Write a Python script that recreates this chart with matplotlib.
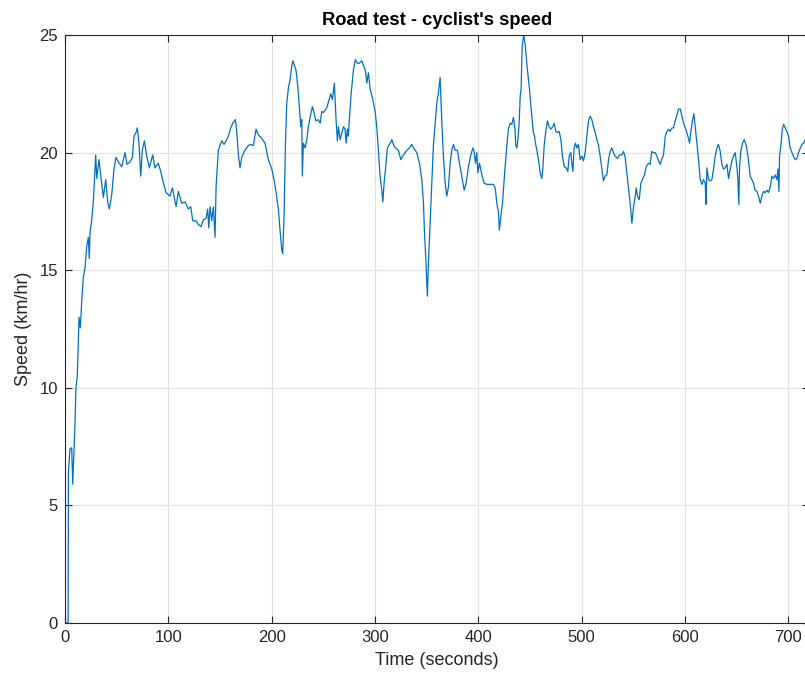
import matplotlib
matplotlib.use("Agg")
import matplotlib.pyplot as plt

# Road test: cyclist's speed over time
time_s = [
    0.0, 3.0, 3.3, 4.8, 6.5, 7.5, 9.7, 10.6, 11.9, 13.6, 14.8, 16.2, 17.7, 19.4,
    21.0, 22.6, 23.5, 24.2, 25.8, 27.4, 29.7, 30.7, 32.9, 34.9, 37.1, 39.4, 41.3,
    42.9, 45.2, 47.4, 49.4, 51.6, 54.9, 58.1, 60.0, 62.9, 65.2, 66.8, 68.7, 70.0,
    71.6, 73.3, 74.8, 76.8, 79.1, 81.6, 84.9, 87.1, 90.3, 92.6, 94.5, 97.8, 101.6,
    103.9, 107.5, 109.7, 112.9, 116.2, 119.4, 121.7, 123.6, 126.8, 129.0, 131.7,
    133.9, 136.5, 138.1, 139.1, 140.4, 142.0, 143.6, 145.2, 146.2, 148.4, 150.0,
    151.7, 153.9, 155.9, 158.1, 160.4, 162.3, 164.9, 166.2, 167.8, 169.4, 171.0,
    174.2, 177.4, 179.8, 182.3, 184.9, 187.1, 190.4, 193.6, 196.8, 200.1, 202.3,
    204.3, 206.5, 208.1, 209.8, 210.7, 212.0, 213.3, 214.6, 216.2, 217.8, 219.5,
    220.7, 222.0, 223.6, 225.3, 226.8, 228.2, 229.1, 229.7, 230.7, 232.3, 234.0,
    235.5, 237.2, 239.4, 241.0, 242.7, 245.2, 246.9, 248.5, 250.0, 253.3, 255.9,
    257.2, 258.8, 260.7, 262.3, 263.6, 264.6, 266.2, 267.9, 269.4, 271.1, 272.0,
    273.3, 274.2, 275.2, 276.9, 279.1, 281.0, 283.0, 284.9, 287.2, 288.8, 290.7,
    292.1, 293.6, 295.3, 297.9, 300.1, 301.7, 303.3, 304.9, 306.6, 307.6, 308.8,
    310.5, 312.0, 314.6, 316.3, 317.8, 319.5, 322.7, 325.0, 327.5, 330.8, 333.3,
    335.6, 337.2, 340.5, 343.0, 345.3, 346.9, 347.8, 349.2, 350.7, 351.7, 353.3,
    355.0, 356.5, 358.2, 359.8, 361.4, 363.0, 364.7, 366.2, 367.9, 369.5, 371.1,
    372.7, 374.3, 375.9, 377.5, 379.8, 381.7, 384.0, 386.3, 388.2, 390.4, 392.7,
    394.7, 395.9, 397.2, 398.5, 399.5, 401.1, 403.4, 405.6, 408.2, 411.4, 414.6,
    416.3, 417.9, 419.5, 420.4, 421.8, 423.3, 425.9, 427.6, 429.1, 430.8, 432.4,
    434.0, 435.4, 436.3, 437.3, 438.3, 439.5, 440.5, 441.4, 442.4, 443.9, 445.3,
    447.3, 449.5, 450.9, 452.4, 453.3, 454.3, 455.3, 456.6, 458.2, 459.8, 461.5,
    462.4, 463.7, 465.3, 466.9, 468.5, 470.2, 472.1, 473.4, 475.0, 476.6, 478.2,
    479.9, 481.4, 483.1, 485.0, 486.6, 487.9, 489.5, 490.5, 491.5, 492.7, 494.0,
    495.4, 496.9, 498.5, 500.2, 501.7, 503.4, 505.0, 506.6, 508.2, 509.9, 511.4,
    513.1, 514.7, 516.3, 517.9, 519.6, 521.1, 522.7, 524.4, 526.0, 527.6, 529.2,
    530.8, 532.4, 534.7, 536.6, 538.9, 540.5, 542.1, 543.7, 545.3, 547.0, 548.6,
    550.2, 551.8, 552.8, 554.0, 555.7, 557.3, 559.2, 560.8, 562.4, 564.6, 566.3,
    567.9, 569.5, 571.2, 572.8, 574.4, 576.0, 577.7, 579.2, 580.9, 582.5, 584.2,
    585.7, 587.4, 588.9, 590.5, 592.2, 593.7, 595.4, 597.0, 598.6, 600.2, 601.8,
    603.4, 604.4, 605.7, 607.3, 608.6, 609.9, 611.5, 613.1, 614.7, 616.4, 617.9,
    619.6, 620.2, 621.2, 622.8, 624.4, 626.0, 627.6, 629.2, 630.9, 632.4, 634.1,
    635.7, 637.3, 638.9, 640.6, 642.1, 643.8, 645.4, 647.0, 648.6, 650.2, 651.2,
    652.1, 652.8, 654.1, 655.7, 657.3, 659.3, 660.9, 663.1, 664.7, 666.3, 667.9,
    669.6, 671.1, 672.8, 674.4, 676.0, 677.6, 679.3, 680.8, 682.5, 684.1, 685.7,
    687.3, 689.0, 689.9, 690.9, 691.5, 692.8, 694.1, 695.4, 697.0, 698.6, 700.2,
    701.8, 703.5, 705.0, 706.7, 708.3, 709.9, 711.6, 713.2, 714.8, 716.4, 718.0,
]

speed_kmh = [
    0.0, 0.0, 6.4, 7.4, 7.45, 5.9, 8.5, 10.0, 10.5, 13.0, 12.55, 13.7, 14.7, 15.1,
    16.0, 16.4, 15.5, 16.6, 17.1, 17.9, 19.9, 18.9, 19.7, 18.9, 18.1, 18.85, 17.9,
    17.6, 18.2, 19.3, 19.8, 19.6, 19.4, 20.0, 19.5, 19.6, 19.8, 20.7, 20.85, 21.05,
    20.4, 19.0, 20.1, 20.5, 19.85, 19.35, 19.9, 19.35, 19.55, 19.2, 18.85, 18.3, 18.15,
    18.5, 17.7, 18.35, 17.85, 17.9, 17.6, 17.7, 17.1, 17.1, 16.95, 16.85,
    17.15, 17.2, 17.6, 16.8, 17.7, 17.1, 17.7, 16.4, 18.55, 20.1, 20.3,
    20.5, 20.35, 20.5, 20.7, 21.05, 21.25, 21.4, 20.9, 19.9, 19.35, 19.8,
    20.1, 20.3, 20.35, 20.3, 21.0, 20.75, 20.6, 20.4, 19.7, 19.3, 18.85,
    18.3, 17.6, 16.7, 15.85, 15.7, 17.3, 20.3, 22.1, 22.75, 23.1, 23.7,
    23.9, 23.7, 23.5, 22.8, 21.95, 21.1, 21.4, 19.0, 20.4, 20.2, 20.55,
    21.1, 21.5, 21.95, 21.7, 21.35, 21.4, 21.25, 21.75, 21.7, 21.9, 22.3,
    22.5, 22.25, 22.95, 21.4, 20.5, 21.1, 20.55, 20.85, 21.1, 21.0, 20.4,
    21.0, 20.7, 21.4, 22.5, 23.5, 23.95, 23.8, 23.8, 23.9, 23.7, 23.5,
    22.95, 23.4, 22.7, 22.25, 21.75, 21.1, 20.1, 19.0, 18.4, 17.9, 18.7,
    19.45, 20.2, 20.4, 20.55, 20.35, 20.2, 20.1, 19.7, 19.9, 20.1, 20.2,
    20.35, 20.2, 20.0, 19.55, 18.85, 17.85, 16.7, 15.45, 13.9, 15.3, 17.0,
    18.85, 20.3, 21.25, 22.1, 22.55, 23.2, 21.25, 19.85, 18.7, 18.15, 18.55,
    19.55, 20.1, 20.35, 20.1, 20.1, 19.55, 19.0, 18.4, 18.7, 19.4, 19.9,
    20.2, 20.05, 19.55, 20.0, 19.15, 19.55, 19.05, 18.7, 18.65, 18.65, 18.65,
    18.5, 17.85, 17.45, 16.7, 17.3, 17.8, 19.4, 20.3, 21.0, 21.25, 21.2,
    21.5, 21.0, 20.3, 20.2, 20.55, 21.25, 22.4, 22.7, 24.5, 25.0, 24.6,
    23.6, 22.7, 21.95, 21.25, 20.85, 20.7, 20.4, 20.1, 19.7, 19.15, 18.9,
    19.3, 20.3, 20.9, 21.35, 21.1, 21.0, 21.1, 21.25, 20.9, 20.85, 20.9,
    20.55, 19.85, 19.4, 19.35, 19.2, 19.85, 20.0, 19.55, 19.2, 20.2, 20.4,
    20.2, 20.35, 19.7, 19.85, 19.65, 20.0, 20.7, 21.35, 21.55, 21.4, 21.1,
    20.85, 20.55, 20.3, 19.85, 19.3, 18.8, 19.0, 19.05, 19.7, 20.05, 20.2,
    20.0, 19.85, 19.75, 19.9, 19.9, 20.05, 19.8, 19.15, 18.5, 17.8, 17.0,
    17.7, 18.15, 18.5, 18.15, 18.0, 18.7, 18.9, 19.05, 19.4, 19.55, 19.5,
    20.05, 20.0, 20.0, 19.85, 19.65, 19.5, 19.75, 19.9, 20.7, 20.9, 21.0,
    20.9, 21.05, 21.05, 21.35, 21.6, 21.85, 21.85, 21.55, 21.25, 21.05, 20.85,
    20.6, 20.4, 20.9, 21.4, 21.65, 21.1, 20.4, 19.7, 18.85, 18.65, 18.85,
    18.7, 17.8, 19.35, 18.85, 18.8, 18.85, 19.3, 19.85, 20.2, 20.35, 20.05,
    19.5, 19.3, 19.35, 19.5, 18.9, 19.3, 19.65, 19.85, 20.0, 19.4, 18.85,
    17.8, 19.4, 20.1, 20.4, 20.55, 20.3, 19.85, 19.0, 18.85, 18.7, 18.4,
    18.35, 18.15, 17.85, 18.15, 18.35, 18.3, 18.4, 18.3, 18.55, 19.0, 18.9,
    19.05, 18.85, 19.3, 18.35, 19.85, 20.3, 21.0, 21.2, 21.05, 20.9, 20.7,
    20.2, 20.0, 19.85, 19.7, 19.75, 20.0, 20.2, 20.35, 20.4, 20.55, 20.5,
]

x_ticks = [0, 100, 200, 300, 400, 500, 600, 700]
y_ticks = [0, 5, 10, 15, 20, 25]

plt.rcParams["font.family"] = ["Liberation Sans", "DejaVu Sans"]

ink = "#262626"
fig = plt.figure(figsize=(8.05, 6.73), dpi=100)
ax = fig.add_axes([65 / 805, 50 / 673, 744 / 805, 588 / 673])

ax.plot(time_s, speed_kmh, color="#0072BD", linewidth=0.9)

ax.set_xlim(0, 720)
ax.set_ylim(0, 25)
ax.set_xticks(x_ticks)
ax.set_yticks(y_ticks)
ax.grid(True, color="#e2e2e2", linewidth=0.8)
ax.set_axisbelow(True)

ax.tick_params(direction="in", length=5, width=0.8, colors=ink,
               labelsize=12, top=True, right=True, pad=5)
for spine in ax.spines.values():
    spine.set_color(ink)
    spine.set_linewidth(0.8)

ax.set_xlabel("Time (seconds)", fontsize=13, color=ink, labelpad=5)
ax.set_ylabel("Speed (km/hr)", fontsize=13, color=ink, labelpad=5)
ax.set_title("Road test - cyclist's speed", fontsize=13.2, fontweight="bold",
             color="black", pad=7)

fig.savefig("out.png", dpi=100)
